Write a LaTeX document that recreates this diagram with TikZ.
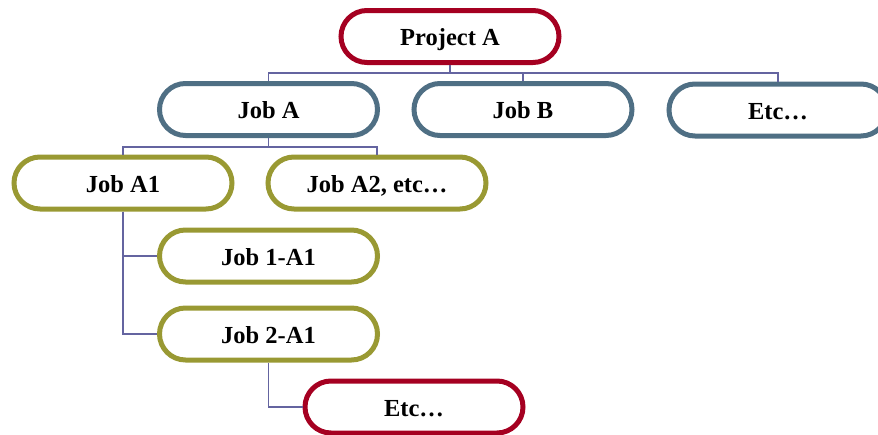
\documentclass[tikz,border=0pt]{standalone}
\usepackage{fontspec}
\setmainfont{Liberation Serif}
\definecolor{cred}{RGB}{165,0,33}
\definecolor{cblue}{RGB}{79,111,132}
\definecolor{colive}{RGB}{153,153,51}
\definecolor{cconn}{RGB}{100,100,160}
\tikzset{
  pill/.style={draw, line width=5pt, fill=white, rounded corners=26pt,
    minimum width=218pt, minimum height=52pt, inner sep=0pt,
    text height=18pt, text depth=0pt,
    font=\fontsize{24.5}{28}\selectfont\bfseries},
  redpill/.style={pill, draw=cred},
  bluepill/.style={pill, draw=cblue},
  olivepill/.style={pill, draw=colive},
  conn/.style={draw=cconn, line width=1.5pt}
}
\begin{document}
\begin{tikzpicture}[x=1pt,y=-1pt]
\useasboundingbox (0,0) rectangle (878,434);
\coordinate (b1) at (450,73);
\coordinate (b2) at (268.5,147);
\node[redpill] (P) at (450,36.5) {Project A};
\node[bluepill] (JA) at (268.5,109.5) {Job A};
\node[bluepill] (JB) at (523,109.5) {Job B};
\node[bluepill] (E1) at (778,110) {Etc\ldots};
\node[olivepill] (JA1) at (123,183) {Job A1};
\node[olivepill] (JA2) at (377,183) {Job A2, etc\ldots};
\node[olivepill] (J1) at (268.5,256) {Job 1-A1};
\node[olivepill] (J2) at (268.5,334) {Job 2-A1};
\node[redpill] (E2) at (414,407) {Etc\ldots};
\draw[conn] (P.south) -- (b1);
\draw[conn] (JA.north) |- (b1);
\draw[conn] (JB.north) |- (b1);
\draw[conn] (E1.north) |- (b1);
\draw[conn] (JA.south) -- (b2);
\draw[conn] (JA1.north) |- (b2);
\draw[conn] (JA2.north) |- (b2);
\draw[conn] (JA1.south) |- (J1.west);
\draw[conn] (JA1.south) |- (J2.west);
\draw[conn] (J2.south) |- (E2.west);
\end{tikzpicture}
\end{document}
